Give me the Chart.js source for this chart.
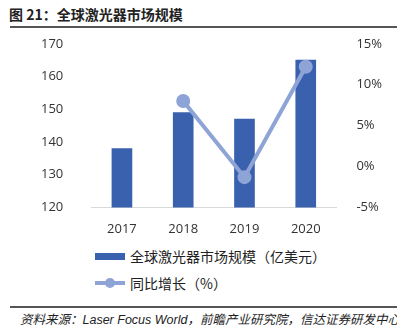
<!DOCTYPE html>
<html>
<head>
<meta charset="utf-8">
<script src="https://cdn.jsdelivr.net/npm/chart.js@4/dist/chart.umd.min.js"></script>
<style>
  body { margin: 0; width: 397px; height: 331px; overflow: hidden; background: #fff; position: relative;
         font-family: "Noto Sans CJK SC", "Noto Sans", sans-serif; }
  #title { position: absolute; left: 9px; top: 4px; font-size: 14px; font-weight: bold; color: #222; }
  #rule1 { position: absolute; left: 10px; right: 0; top: 26px; height: 2px; background: #555; }
  #rule2 { position: absolute; left: 10px; right: 0; top: 306px; height: 2px; background: #555; }
  #src { position: absolute; left: 20px; top: 309px; font-size: 12.5px; font-style: italic; color: #222;
         white-space: nowrap; width: 377px; overflow: hidden; }
  #src .en { font-family: "Liberation Sans", sans-serif; }
  #wrap { position: absolute; left: 0; top: 16px; width: 397px; height: 227px; }
  .leg { position: absolute; left: 95px; font-size: 14px; color: #222; line-height: 16px; }
  .leg span { display: inline-block; vertical-align: middle; }
</style>
</head>
<body>
<div id="title">图 21：全球激光器市场规模</div>
<div id="rule1"></div>
<div id="wrap"><canvas id="myChart"></canvas></div>
<div class="leg" style="top:246px;">
  <span style="width:30px;height:7px;background:#3a61ad;margin-right:5px;"></span><span>全球激光器市场规模（亿美元）</span>
</div>
<div class="leg" style="top:273px;">
  <span style="position:relative;width:30px;height:10px;margin-right:5px;">
    <span style="position:absolute;left:0;top:3px;width:30px;height:4px;background:#8ea3d6;"></span>
    <span style="position:absolute;left:10px;top:0;width:10px;height:10px;border-radius:5px;background:#8ea3d6;"></span>
  </span><span>同比增长（%）</span>
</div>
<div id="rule2"></div>
<div id="src">资料来源：<span class="en">Laser Focus World</span>，前瞻产业研究院，信达证券研发中心</div>
<script>
var years = ["2017", "2018", "2019", "2020"];
var marketSize = [138, 149, 147, 165];
var growthPct = [null, 8.0, -1.3, 12.2];
var barColor = "#3a61ad";
var lineColor = "#8ea3d6";

new Chart("myChart", {
    type: "bar",
    data: {
        labels: years,
        datasets: [{
            type: "line",
            label: "同比增长（%）",
            data: growthPct,
            yAxisID: "y2",
            borderColor: lineColor,
            backgroundColor: lineColor,
            borderWidth: 4,
            pointRadius: 5,
            pointHoverRadius: 5,
            order: 0
        }, {
            label: "全球激光器市场规模（亿美元）",
            data: marketSize,
            yAxisID: "y",
            backgroundColor: barColor,
            barThickness: 20,
            order: 1
        }]
    },
    options: {
        responsive: true,
        maintainAspectRatio: false,
        animation: false,
        layout: { padding: { left: 21, right: 3, top: 8, bottom: 0 } },
        plugins: {
            legend: { display: false },
            tooltip: { enabled: false }
        },
        scales: {
            x: {
                grid: { display: false },
                border: { color: "#d9d9d9" },
                ticks: { color: "#333", font: { family: "Open Sans", size: 13 }, padding: 6 }
            },
            y: {
                position: "left",
                min: 120, max: 170,
                grid: { display: false },
                border: { display: false },
                ticks: { stepSize: 10, color: "#333", font: { family: "Open Sans", size: 13 }, padding: 20 }
            },
            y2: {
                position: "right",
                min: -5, max: 15,
                grid: { display: false },
                border: { display: false },
                ticks: { stepSize: 5, color: "#333", font: { family: "Open Sans", size: 13 }, padding: 12,
                         callback: function (v) { return v + "%"; } }
            }
        }
    }
});
</script>
</body>
</html>
